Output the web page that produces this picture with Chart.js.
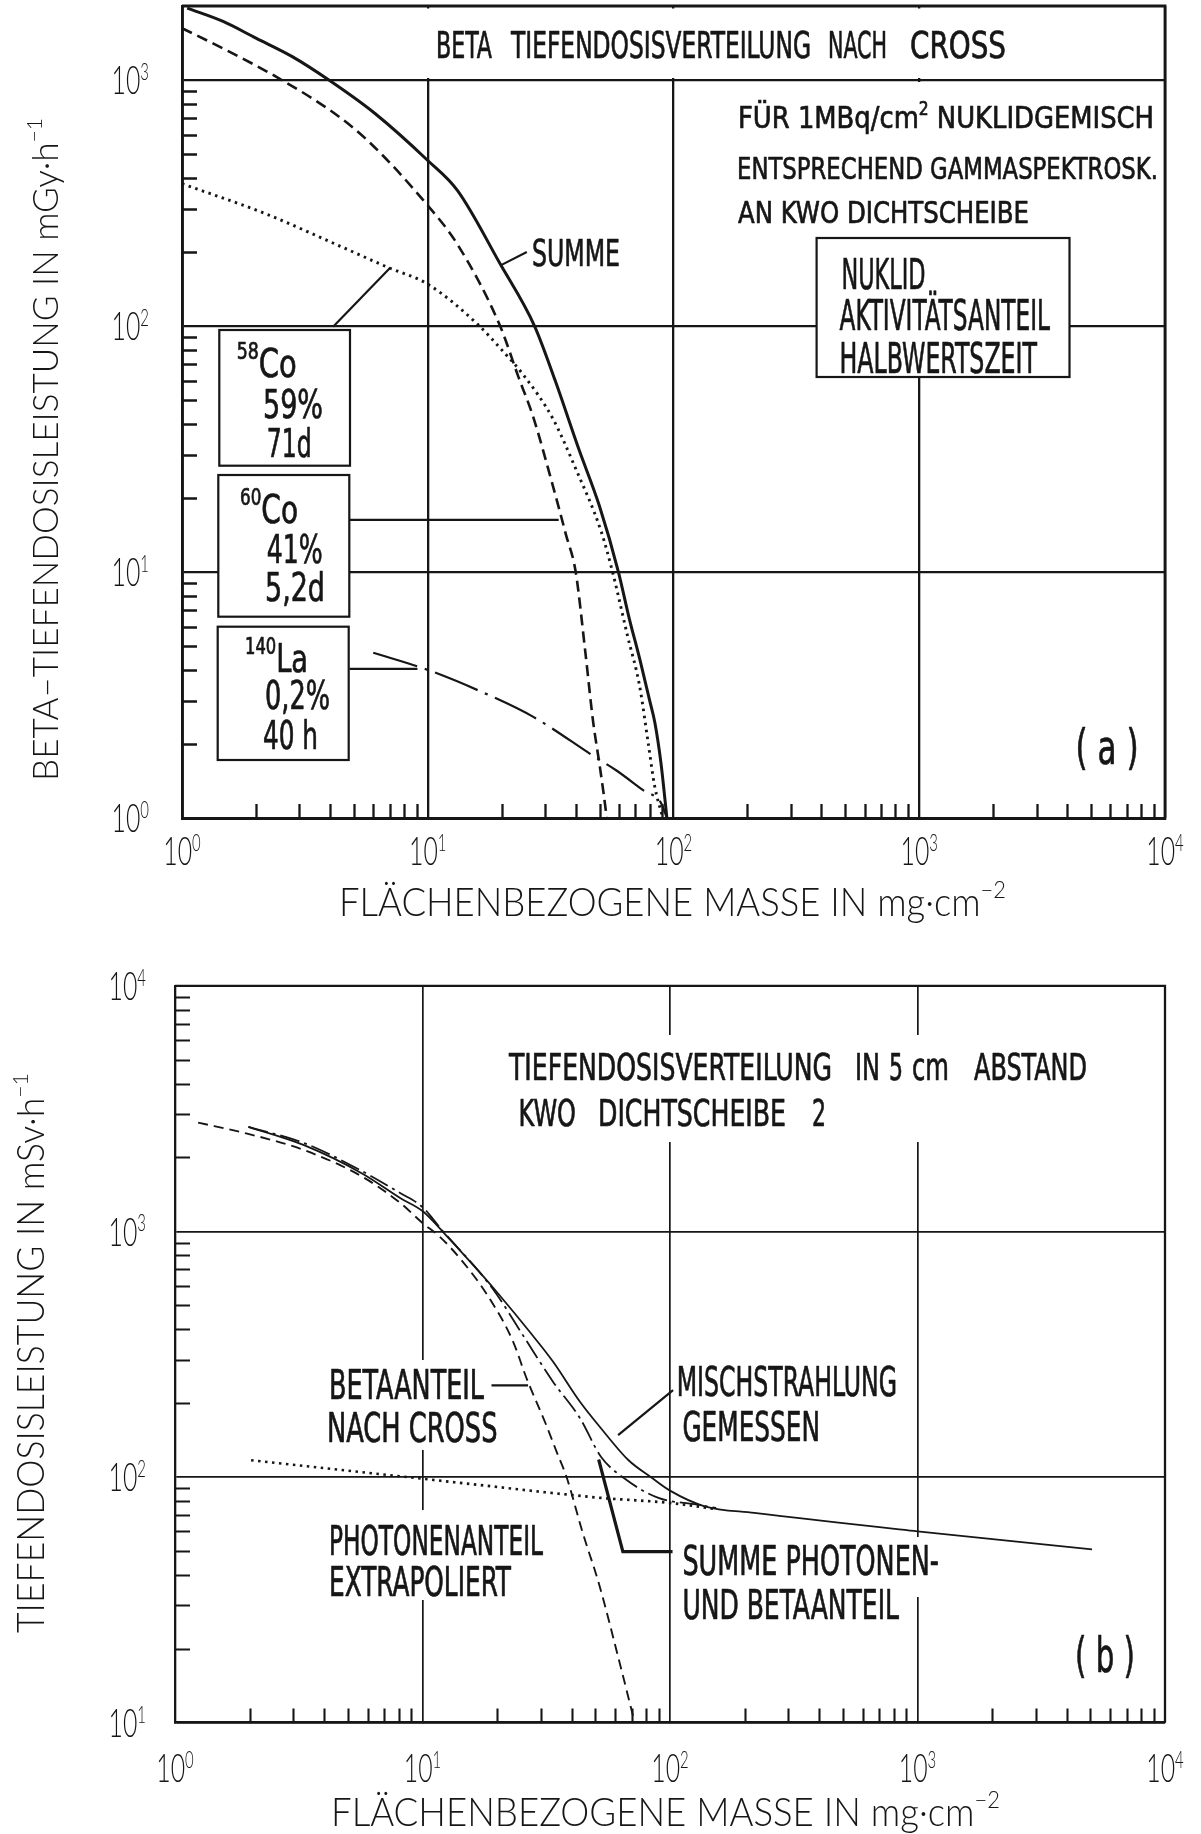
<!DOCTYPE html>
<html>
<head>
<meta charset="utf-8">
<title>Beta-Tiefendosisverteilung</title>
<script src="https://cdn.jsdelivr.net/npm/chart.js@4.4.1/dist/chart.umd.min.js"></script>
<style>
  html, body { margin: 0; padding: 0; background: #fff; }
  #wrap { position: relative; width: 1201px; height: 1834px; }
  canvas { position: absolute; left: 0; }
  #chartA { top: 0; }
  #chartB { top: 930px; }
</style>
</head>
<body>
<div id="wrap">
  <canvas id="chartA" width="1201" height="930" style="width:1201px;height:930px"></canvas>
  <canvas id="chartB" width="1201" height="904" style="width:1201px;height:904px"></canvas>
</div>
<script>
// ---- (a) Beta-Tiefendosis nach Cross, mGy/h over mg/cm^2 ----
const summeAX = [1.05, 1.47, 2.0, 2.81, 3.96, 6.1, 10, 13.2, 19.7, 27.2, 33, 41, 50, 59.7, 66, 73, 80, 84, 89, 94];
const summeAY = [1960, 1730, 1480, 1245, 1000, 731, 471, 356, 179, 100, 60, 32, 18.5, 10, 6.5, 4.4, 3.0, 2.44, 1.66, 1.0];
const co60X = [1.0, 1.5, 2.48, 4.18, 5.68, 10, 13.2, 19.7, 23.4, 26.8, 32.3, 36.5, 40, 43.8, 47, 50, 52, 53.5];
const co60Y = [1625, 1330, 1016, 731, 569, 309, 215, 100, 62, 43, 22.4, 14.2, 10, 4.7, 2.5, 1.65, 1.25, 1.0];
const co58X = [1.0, 2.19, 4.5, 6.9, 10, 15.9, 20, 24.4, 32.3, 40, 50.8, 56.5, 65, 72.8, 79, 83.8, 90.5];
const co58Y = [379, 286, 209, 173, 148, 102, 80, 63.6, 42, 26.3, 14.6, 10, 5.5, 3.44, 2.0, 1.35, 1.0];
const la140X = [6.0, 10, 16.4, 27, 47.9, 58.6, 75, 89, 94];
const la140Y = [4.7, 4.0, 3.27, 2.57, 1.77, 1.56, 1.30, 1.15, 1.0];

// leader lines of (a), [mass, dose]
const leadSummeA = [[19.7, 176], [25.3, 200]];
const leadCo58 = [[4.12, 99.4], [7.05, 173]];
const leadCo60 = [[4.82, 16.3], [34.1, 16.3]];
const leadLa140 = [[4.8, 4.04], [9.08, 4.04]];

// ---- (b) Tiefendosis in 5 cm Abstand, mSv/h over mg/cm^2 ----
const mischX = [1.98, 3.32, 5.7, 8.15, 10, 12.4, 16.9, 20.4, 27, 33.6, 43.2, 52.6, 68, 83.6, 100, 138, 219, 1000, 5070];
const mischY = [2666, 2244, 1722, 1365, 1210, 969, 687, 552, 392, 296, 203, 158, 117, 100, 88, 76, 71.4, 60.1, 50.7];
const summeBX = [1.98, 3.32, 5.3, 8.15, 10, 12, 16.9, 19.8, 25.4, 33.6, 43.2, 52.6, 65.1, 89.8, 128.5, 153.6];
const summeBY = [2666, 2290, 1830, 1430, 1255, 1010, 687, 560, 379, 245, 174, 121, 99, 82.2, 77.2, 74.8];
const betaX = [1.24, 1.94, 3.32, 5.7, 8.15, 10, 11.7, 14.5, 18.6, 23.2, 26.3, 31.6, 35, 38.2, 44.3, 51.9, 62.8, 72];
const betaY = [2774, 2506, 2143, 1671, 1303, 1082, 955, 755, 536, 357, 253, 163, 125, 100, 59.7, 36.1, 17.3, 10];
const photonX = [2.03, 10, 41.2, 52.6, 100, 150];
const photonY = [117, 98.4, 84.2, 82.2, 78.4, 74.2];

const leadMisch = [[61.7, 148], [102.9, 226]];
const leadBeta = [[19.0, 236], [26.7, 236]];
const leadSummeB = [[51.5, 117.8], [64.5, 49.7], [102.4, 49.7]];

// tick labels (decades)
const xTicks = [1, 10, 100, 1000, 10000];
const yTicksA = [1, 10, 100, 1000];
const yTicksB = [10, 100, 1000, 10000];

const INK = '#161616';
const LETTER = '"Liberation Sans Narrow", "DejaVu Sans Condensed", "Roboto Condensed", "Liberation Sans", "DejaVu Sans", sans-serif';
const THIN = 'Lato, "Open Sans", "DejaVu Sans", sans-serif';

const zip = (xs, ys) => xs.map((x, i) => ({x: x, y: ys[i]}));
const pairs = (list) => list.map(p => ({x: p[0], y: p[1]}));
const isDecade = (v) => v > 0 && Math.abs(Math.log10(v) - Math.round(Math.log10(v))) < 1e-9;

// draw text made of segments [text, isSuperscript], squeezed to a target width
const drawRich = (ctx, segs, x, y, o) => {
    const size = o.size;
    const supSize = size * (o.supScale || 0.6);
    const raise = size * (o.supRaise || 0.42);
    const fontOf = (sup) => `${o.weight || 400} ${sup ? supSize : size}px ${o.family || LETTER}`;
    ctx.save();
    const widths = segs.map(s => { ctx.font = fontOf(s[1]); return ctx.measureText(s[0]).width; });
    const natural = widths.reduce((p, w) => p + w, 0);
    const sx = o.width ? o.width / natural : (o.sx || 1);
    const total = natural * sx;
    ctx.translate(x, y);
    if (o.rotate) ctx.rotate(o.rotate);
    const start = o.align === 'center' ? -total / 2 : (o.align === 'right' ? -total : 0);
    ctx.scale(sx, 1);
    let cx = start / sx;
    ctx.fillStyle = INK;
    ctx.strokeStyle = INK;
    ctx.lineWidth = o.bold || 0;
    ctx.lineJoin = 'round';
    ctx.textAlign = 'left';
    ctx.textBaseline = 'alphabetic';
    const base = size * 0.36;
    segs.forEach((s, i) => {
        ctx.font = fontOf(s[1]);
        const by = base - (s[1] ? raise : 0);
        ctx.fillText(s[0], cx, by);
        if (o.bold) ctx.strokeText(s[0], cx, by);
        cx += widths[i];
    });
    ctx.restore();
};

const sketch = (spec) => ({
    id: 'sketch' + spec.name,
    beforeDatasetsDraw(chart) {
        const ctx = chart.ctx;
        ctx.save();
        ctx.fillStyle = '#fff';
        spec.masks.forEach(m => ctx.fillRect(m[0], m[1] - spec.top, m[2] - m[0], m[3] - m[1]));
        ctx.restore();
    },
    afterDatasetsDraw(chart) {
        const ctx = chart.ctx;
        const a = chart.chartArea;
        const xs = chart.scales.x;
        const ys = chart.scales.y;
        ctx.save();
        ctx.strokeStyle = INK;
        ctx.lineWidth = spec.frame;
        ctx.beginPath();
        ctx.moveTo(a.left, a.top);
        ctx.lineTo(a.right, a.top);
        ctx.lineTo(a.right, a.bottom);
        ctx.stroke();

        // inner minor ticks
        ctx.lineWidth = spec.tickWidth;
        ctx.beginPath();
        for (let e = Math.floor(Math.log10(xs.min)); e < Math.ceil(Math.log10(xs.max)); e++) {
            for (let m = 2; m <= 9; m++) {
                const v = m * Math.pow(10, e);
                if (v <= xs.min || v >= xs.max) continue;
                const p = Math.round(xs.getPixelForValue(v)) + 0.5;
                ctx.moveTo(p, a.bottom);
                ctx.lineTo(p, a.bottom - 14);
            }
        }
        for (let e = Math.floor(Math.log10(ys.min)); e < Math.ceil(Math.log10(ys.max)); e++) {
            for (let m = 2; m <= 9; m++) {
                const v = m * Math.pow(10, e);
                if (v <= ys.min || v >= ys.max || v >= spec.yTickMax) continue;
                const p = Math.round(ys.getPixelForValue(v)) + 0.5;
                ctx.moveTo(a.left, p);
                ctx.lineTo(a.left + 15, p);
            }
        }
        ctx.stroke();

        // boxes
        ctx.lineWidth = 2.2;
        spec.boxes.forEach(b => {
            ctx.fillStyle = '#fff';
            ctx.fillRect(b[0], b[1] - spec.top, b[2] - b[0], b[3] - b[1]);
            ctx.strokeRect(b[0], b[1] - spec.top, b[2] - b[0], b[3] - b[1]);
        });

        // annotation texts
        spec.texts.forEach(t => {
            const segs = typeof t.t === 'string' ? [[t.t]] : t.t;
            drawRich(ctx, segs, t.x, t.y - spec.top, {size: t.size, width: t.w, align: t.align, supRaise: t.raise, bold: 0.7});
        });

        // decade tick labels
        const lab = (v) => [['10'], [String(Math.round(Math.log10(v))), true]];
        const tickOpt = {size: 40, sx: 0.62, family: THIN, weight: 300, supScale: 0.6, supRaise: 0.36};
        xTicks.forEach(v => {
            drawRich(ctx, lab(v), xs.getPixelForValue(v), spec.xLabelY - spec.top, Object.assign({align: 'center'}, tickOpt));
        });
        spec.yTicks.forEach(v => {
            drawRich(ctx, lab(v), spec.yLabelRight, ys.getPixelForValue(v), Object.assign({align: 'right'}, tickOpt));
        });

        // axis titles
        drawRich(ctx, spec.yTitle, spec.yTitlePos[0], spec.yTitlePos[1] - spec.top,
            {size: spec.yTitlePos[3], width: spec.yTitlePos[2], align: 'center', rotate: -Math.PI / 2, family: THIN, weight: 300, supScale: 0.6, supRaise: 0.45});
        drawRich(ctx, spec.xTitle, spec.xTitlePos[0], spec.xTitlePos[1] - spec.top,
            {size: spec.xTitlePos[3], width: spec.xTitlePos[2], family: THIN, weight: 300, supScale: 0.6, supRaise: 0.45});
        ctx.restore();
    }
});

const logAxis = (min, max, gridWidth, horizontal) => ({
    type: 'logarithmic',
    min: min,
    max: max,
    ticks: {display: false, autoSkip: false},
    grid: {
        drawTicks: false,
        lineWidth: gridWidth,
        color: (c) => (c.tick && isDecade(c.tick.value)) ? INK : 'rgba(0,0,0,0)'
    },
    border: {display: true, color: INK, width: gridWidth + 0.6},
    afterFit: (s) => { if (horizontal) s.height = 0; else s.width = 0; }
});

const curve = (data, width, dash) => ({
    data: data,
    borderColor: INK,
    borderWidth: width,
    borderDash: dash || [],
    pointRadius: 0,
    fill: false,
    cubicInterpolationMode: 'monotone',
    borderCapStyle: 'butt'
});

const leader = (data, width) => ({
    data: data,
    borderColor: INK,
    borderWidth: width,
    pointRadius: 0,
    fill: false,
    tension: 0
});

const makeChart = (id, datasets, padding, yMin, yMax, gridWidth, spec) => new Chart(document.getElementById(id), {
    type: 'line',
    data: {datasets: datasets},
    options: {
        responsive: false,
        animation: false,
        devicePixelRatio: 1,
        layout: {padding: padding},
        plugins: {legend: {display: false}, tooltip: {enabled: false}},
        scales: {
            x: logAxis(1, 10000, gridWidth, true),
            y: logAxis(yMin, yMax, gridWidth, false)
        }
    },
    plugins: [sketch(spec)]
});

const SUP = true;

makeChart('chartA', [
    curve(zip(summeAX, summeAY), 3.0),
    curve(zip(co60X, co60Y), 2.6, [11, 6]),
    curve(zip(co58X, co58Y), 2.9, [2.5, 4.5]),
    curve(zip(la140X, la140Y), 2.2, [46, 8, 3, 8]),
    leader(pairs(leadSummeA), 2.2),
    leader(pairs(leadCo58), 2.2),
    leader(pairs(leadCo60), 2.2),
    leader(pairs(leadLa140), 2.2)
], {left: 182, right: 36, top: 6, bottom: 112}, 1, 2000, 2.3, {
    name: 'A', top: 0, frame: 2.8, tickWidth: 2.3, yTickMax: 1000,
    masks: [[185, 8.5, 1162.5, 78], [728, 82, 1162.5, 238]],
    boxes: [[219.3, 330, 350, 465.7], [218.3, 475, 349.3, 616.7], [217.7, 626.7, 348.7, 760], [816.6, 238, 1069.5, 377]],
    texts: [
        {t: 'BETA', x: 436, y: 45, w: 56, size: 37},
        {t: 'TIEFENDOSISVERTEILUNG', x: 511, y: 45, w: 300, size: 37},
        {t: 'NACH', x: 828, y: 45, w: 59, size: 37},
        {t: 'CROSS', x: 910, y: 45, w: 96, size: 37},
        {t: [['FÜR 1MBq/cm'], ['2', SUP], [' NUKLIDGEMISCH']], x: 738, y: 117, w: 416, size: 31},
        {t: 'ENTSPRECHEND GAMMASPEKTROSK.', x: 737, y: 168, w: 421, size: 31},
        {t: 'AN KWO DICHTSCHEIBE', x: 738, y: 212, w: 291, size: 31},
        {t: 'NUKLID', x: 841.5, y: 274, w: 84, size: 42},
        {t: 'AKTIVITÄTSANTEIL', x: 839.5, y: 315, w: 210.5, size: 42},
        {t: 'HALBWERTSZEIT', x: 839.5, y: 358, w: 197.5, size: 42},
        {t: 'SUMME', x: 532, y: 253, w: 88, size: 37},
        {t: [['58', SUP], ['Co']], x: 236.7, y: 362.5, w: 60, size: 39, raise: 0.46},
        {t: '59%', x: 263, y: 404, w: 60, size: 39},
        {t: '71d', x: 266.7, y: 442.5, w: 45, size: 39},
        {t: [['60', SUP], ['Co']], x: 240, y: 508.5, w: 58, size: 39, raise: 0.46},
        {t: '41%', x: 266.7, y: 549, w: 56, size: 39},
        {t: '5,2d', x: 265, y: 587, w: 60, size: 39},
        {t: [['140', SUP], ['La']], x: 245, y: 657.5, w: 63, size: 39, raise: 0.46},
        {t: '0,2%', x: 265, y: 695, w: 65, size: 39},
        {t: '40 h', x: 263, y: 735, w: 55, size: 39},
        {t: '( a )', x: 1107, y: 747, w: 63, size: 48, align: 'center'}
    ],
    yTicks: yTicksA, yLabelRight: 149, xLabelY: 851,
    yTitle: [['BETA–TIEFENDOSISLEISTUNG IN mGy·h'], ['−1', SUP]], yTitlePos: [45, 449.5, 663, 35],
    xTitle: [['FLÄCHENBEZOGENE MASSE IN mg·cm'], ['−2', SUP]], xTitlePos: [339, 902, 667, 39]
});

makeChart('chartB', [
    curve(zip(mischX, mischY), 1.8),
    curve(zip(summeBX, summeBY), 1.8, [20, 5, 3, 5]),
    curve(zip(betaX, betaY), 1.9, [10, 6]),
    curve(zip(photonX, photonY), 2.7, [2.5, 4.5]),
    leader(pairs(leadMisch), 2.2),
    leader(pairs(leadBeta), 2.2),
    leader(pairs(leadSummeB), 3.2)
], {left: 175, right: 36, top: 55.8, bottom: 111.4}, 10, 10000, 1.7, {
    name: 'B', top: 930, frame: 2.3, tickWidth: 2.1, yTickMax: 1e9,
    masks: [[505, 1035, 1095, 1142], [322, 1360, 500, 1450], [322, 1510, 550, 1600], [678, 1537, 945, 1597]],
    boxes: [],
    texts: [
        {t: 'TIEFENDOSISVERTEILUNG', x: 509, y: 1067, w: 323, size: 37},
        {t: 'IN', x: 855, y: 1067, w: 25, size: 37},
        {t: '5', x: 889, y: 1067, w: 14, size: 37},
        {t: 'cm', x: 912, y: 1067, w: 37, size: 37},
        {t: 'ABSTAND', x: 974, y: 1067, w: 113, size: 37},
        {t: 'KWO', x: 518.6, y: 1113, w: 57.4, size: 37},
        {t: 'DICHTSCHEIBE', x: 598, y: 1113, w: 188, size: 37},
        {t: '2', x: 812, y: 1113, w: 14, size: 37},
        {t: 'BETAANTEIL', x: 329, y: 1385, w: 155, size: 40},
        {t: 'NACH CROSS', x: 327, y: 1428, w: 170.5, size: 40},
        {t: 'PHOTONENANTEIL', x: 329, y: 1541, w: 214, size: 40},
        {t: 'EXTRAPOLIERT', x: 329, y: 1582, w: 182, size: 40},
        {t: 'MISCHSTRAHLUNG', x: 676.7, y: 1381.5, w: 220.3, size: 40},
        {t: 'GEMESSEN', x: 682.4, y: 1427, w: 137.6, size: 40},
        {t: 'SUMME PHOTONEN-', x: 682.4, y: 1561, w: 256.6, size: 40},
        {t: 'UND BETAANTEIL', x: 682.4, y: 1605, w: 216.6, size: 40},
        {t: '( b )', x: 1105, y: 1655, w: 60, size: 48, align: 'center'}
    ],
    yTicks: yTicksB, yLabelRight: 146, xLabelY: 1768,
    yTitle: [['TIEFENDOSISLEISTUNG IN mSv·h'], ['−1', SUP]], yTitlePos: [31, 1353, 560, 37],
    xTitle: [['FLÄCHENBEZOGENE MASSE IN mg·cm'], ['−2', SUP]], xTitlePos: [331, 1812, 669, 39]
});
</script>
</body>
</html>
